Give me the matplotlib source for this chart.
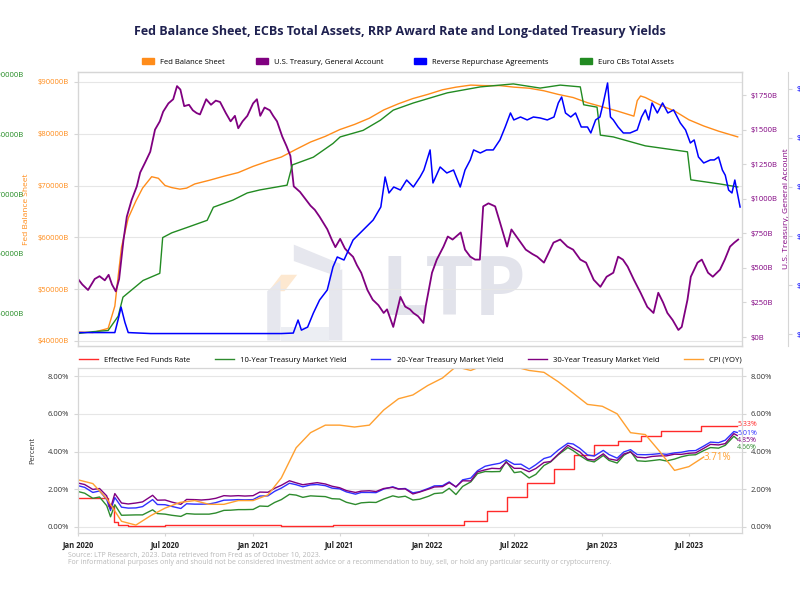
import matplotlib
matplotlib.use("Agg")
import matplotlib.pyplot as plt
import matplotlib.dates as mdates
from matplotlib.patches import Patch, Polygon
from matplotlib.lines import Line2D
from matplotlib.ticker import FuncFormatter, FixedLocator
import pandas as pd

plt.rcParams['font.family'] = ['Open Sans', 'DejaVu Sans']

# ---- top panel data (axis units as labelled on the chart) ----
fed_dates = ['2020-01-01', '2020-02-01', '2020-03-04', '2020-03-18', '2020-03-25', '2020-04-01',
             '2020-04-15', '2020-05-01', '2020-05-15', '2020-06-03', '2020-06-17', '2020-07-01',
             '2020-07-15', '2020-08-01', '2020-08-15', '2020-09-01', '2020-10-01', '2020-11-01',
             '2020-12-01', '2021-01-01', '2021-02-01', '2021-03-01', '2021-04-01', '2021-05-01',
             '2021-06-01', '2021-07-01', '2021-08-01', '2021-09-01', '2021-10-01', '2021-11-01',
             '2021-12-01', '2022-01-01', '2022-02-01', '2022-03-01', '2022-04-01', '2022-05-01',
             '2022-06-01', '2022-07-01', '2022-08-01', '2022-09-01', '2022-10-01', '2022-11-01',
             '2022-12-01', '2023-01-01', '2023-02-01', '2023-03-08', '2023-03-15', '2023-03-22',
             '2023-04-01', '2023-05-01', '2023-06-01', '2023-07-01', '2023-08-01', '2023-09-01',
             '2023-10-11']
fed_bs = [41700, 41600, 42400, 46700, 52500, 58100, 63700, 67000, 69500, 71700, 71400, 70000,
          69600, 69300, 69500, 70300, 71000, 71800, 72500, 73700, 74700, 75500, 77000, 78400,
          79500, 80800, 81800, 83000, 84600, 85800, 86800, 87600, 88500, 89000, 89400, 89300,
          89300, 89000, 88800, 88300, 87600, 87000, 86000, 85200, 84400, 83400, 86400, 87300,
          87000, 85600, 84400, 82700, 81500, 80500, 79400]

ecb_dates = ['2020-01-01', '2020-02-01', '2020-03-04', '2020-03-25', '2020-04-04', '2020-05-01',
             '2020-05-16', '2020-06-20', '2020-06-26', '2020-07-15', '2020-08-16', '2020-09-27',
             '2020-10-10', '2020-11-20', '2020-12-20', '2021-01-15', '2021-03-13', '2021-03-24',
             '2021-05-07', '2021-06-17', '2021-07-02', '2021-08-19', '2021-09-24', '2021-10-21',
             '2021-12-02', '2022-02-11', '2022-04-21', '2022-06-29', '2022-08-24', '2022-10-05',
             '2022-11-16', '2022-11-23', '2022-12-21', '2022-12-28', '2023-01-24', '2023-04-01',
             '2023-06-28', '2023-07-05', '2023-09-04', '2023-10-11']
ecb_assets = [46600, 46900, 47100, 49500, 52700, 54500, 55500, 56700, 62700, 63500, 64400, 65600,
              67800, 69000, 70200, 70700, 71500, 74900, 76200, 78500, 79600, 80700, 82400, 84100,
              85300, 87000, 88000, 88500, 87800, 88300, 88000, 85000, 84600, 79900, 79600, 78100,
              77100, 72400, 71700, 71200]

tga_dates = ['2020-01-01', '2020-01-10', '2020-01-22', '2020-02-05', '2020-02-15', '2020-02-26',
             '2020-03-05', '2020-03-12', '2020-03-20', '2020-03-27', '2020-04-05', '2020-04-12',
             '2020-04-22', '2020-05-03', '2020-05-10', '2020-05-20', '2020-05-31', '2020-06-10',
             '2020-06-20', '2020-06-27', '2020-07-08', '2020-07-18', '2020-07-26', '2020-08-02',
             '2020-08-10', '2020-08-20', '2020-08-28', '2020-09-05', '2020-09-12', '2020-09-25',
             '2020-10-05', '2020-10-15', '2020-10-24', '2020-11-05', '2020-11-15', '2020-11-24',
             '2020-12-01', '2020-12-10', '2020-12-20', '2021-01-01', '2021-01-09', '2021-01-16',
             '2021-01-25', '2021-02-05', '2021-02-12', '2021-02-20', '2021-03-03', '2021-03-12',
             '2021-03-20', '2021-03-27', '2021-04-09', '2021-04-20', '2021-05-01', '2021-05-10',
             '2021-05-20', '2021-06-05', '2021-06-15', '2021-06-22', '2021-07-02', '2021-07-12',
             '2021-07-20', '2021-07-29', '2021-08-06', '2021-08-15', '2021-08-28', '2021-09-08',
             '2021-09-20', '2021-10-01', '2021-10-08', '2021-10-21', '2021-11-05', '2021-11-15',
             '2021-11-25', '2021-12-02', '2021-12-12', '2021-12-23', '2021-12-28', '2022-01-10',
             '2022-01-20', '2022-02-03', '2022-02-12', '2022-02-22', '2022-03-11', '2022-03-20',
             '2022-03-31', '2022-04-10', '2022-04-20', '2022-04-27', '2022-05-08', '2022-05-22',
             '2022-06-01', '2022-06-16', '2022-06-25', '2022-07-10', '2022-07-25', '2022-08-08',
             '2022-08-18', '2022-09-01', '2022-09-21', '2022-10-05', '2022-10-20', '2022-11-01',
             '2022-11-16', '2022-11-28', '2022-12-14', '2022-12-28', '2023-01-10', '2023-01-24',
             '2023-02-03', '2023-02-13', '2023-02-23', '2023-03-08', '2023-03-22', '2023-04-05',
             '2023-04-18', '2023-04-28', '2023-05-08', '2023-05-17', '2023-05-28', '2023-06-09',
             '2023-06-16', '2023-06-28', '2023-07-05', '2023-07-19', '2023-07-28', '2023-08-10',
             '2023-08-20', '2023-09-04', '2023-09-14', '2023-09-25', '2023-10-04', '2023-10-12']
tga = [420, 380, 340, 420, 440, 410, 450, 380, 330, 420, 700, 870,
       990, 1090, 1190, 1260, 1340, 1500, 1560, 1630, 1690, 1720, 1815, 1790,
       1670, 1680, 1640, 1620, 1610, 1720, 1680, 1710, 1700, 1620, 1560, 1600,
       1510, 1560, 1600, 1690, 1720, 1600, 1660, 1640, 1600, 1560, 1450, 1380,
       1310, 1090, 1050, 1000, 950, 920, 870, 780, 700, 650, 710, 640,
       610, 580, 520, 465, 340, 270, 230, 174, 200, 73, 290, 220,
       200, 174, 150, 102, 225, 465, 560, 654, 727, 705, 756, 632,
       581, 560, 560, 945, 967, 945, 830, 654, 778, 705, 632, 600,
       581, 538, 683, 705, 654, 632, 560, 538, 414, 363, 436, 465,
       581, 560, 509, 414, 320, 218, 174, 320, 250, 174, 123, 51,
       73, 269, 436, 538, 560, 465, 436, 487, 560, 654, 683, 705]

rrp_dates = ['2020-01-01', '2020-02-01', '2020-03-01', '2020-03-18', '2020-03-25', '2020-03-31',
             '2020-04-08', '2020-04-15', '2020-06-01', '2020-09-01', '2020-12-01', '2021-03-01',
             '2021-03-26', '2021-04-05', '2021-04-12', '2021-04-25', '2021-05-07', '2021-05-20',
             '2021-06-05', '2021-06-17', '2021-06-26', '2021-07-10', '2021-07-29', '2021-08-19',
             '2021-09-09', '2021-09-25', '2021-10-04', '2021-10-12', '2021-10-22', '2021-11-05',
             '2021-11-18', '2021-12-02', '2021-12-16', '2021-12-24', '2022-01-06', '2022-01-12',
             '2022-01-27', '2022-02-10', '2022-02-24', '2022-03-10', '2022-03-20', '2022-03-31',
             '2022-04-07', '2022-04-21', '2022-05-04', '2022-05-18', '2022-06-01', '2022-06-12',
             '2022-06-23', '2022-06-30', '2022-07-14', '2022-07-28', '2022-08-10', '2022-08-24',
             '2022-09-08', '2022-09-22', '2022-10-01', '2022-10-08', '2022-10-16', '2022-10-27',
             '2022-11-06', '2022-11-18', '2022-12-01', '2022-12-08', '2022-12-18', '2022-12-27',
             '2023-01-03', '2023-01-12', '2023-01-18', '2023-01-24', '2023-02-03', '2023-02-14',
             '2023-02-28', '2023-03-15', '2023-03-24', '2023-04-01', '2023-04-08', '2023-04-15',
             '2023-04-26', '2023-05-07', '2023-05-18', '2023-05-30', '2023-06-13', '2023-06-24',
             '2023-07-04', '2023-07-12', '2023-07-21', '2023-08-01', '2023-08-15', '2023-08-23',
             '2023-09-01', '2023-09-09', '2023-09-15', '2023-09-22', '2023-09-29', '2023-10-05',
             '2023-10-16']
rrp = [15, 15, 15, 15, 150, 275, 120, 15, 5, 5, 5, 5,
       10, 143, 40, 71, 214, 347, 449, 684, 786, 755, 959, 1061,
       1163, 1296, 1602, 1439, 1500, 1469, 1571, 1500, 1602, 1673, 1878, 1541,
       1704, 1643, 1673, 1500, 1673, 1776, 1878, 1847, 1878, 1878, 1980, 2112,
       2255, 2184, 2214, 2184, 2214, 2204, 2184, 2214, 2357, 2418, 2255, 2214,
       2255, 2112, 2112, 2051, 2184, 2214, 2357, 2561, 2214, 2184, 2112, 2051,
       2051, 2082, 2214, 2286, 2184, 2357, 2255, 2357, 2255, 2286, 2153, 2082,
       1949, 1980, 1806, 1745, 1776, 1776, 1806, 1673, 1620, 1469, 1439, 1571,
       1296]

# ---- bottom panel data (percent) ----
ffr_dates = ['2020-01-01', '2020-03-04', '2020-03-16', '2020-03-25', '2020-04-15', '2020-07-01',
             '2021-03-01', '2021-06-17', '2022-03-17', '2022-05-05', '2022-06-16', '2022-07-28',
             '2022-09-22', '2022-11-03', '2022-12-15', '2023-02-02', '2023-03-23', '2023-05-04',
             '2023-07-27', '2023-10-10']
ffr = [1.55, 1.09, 0.25, 0.10, 0.05, 0.09, 0.07, 0.08, 0.33, 0.83, 1.58, 2.33,
       3.08, 3.83, 4.33, 4.58, 4.83, 5.08, 5.33, 5.33]

yield_dates = ['2020-01-01', '2020-01-15', '2020-02-01', '2020-02-15', '2020-03-01', '2020-03-09',
               '2020-03-18', '2020-04-01', '2020-04-15', '2020-05-01', '2020-05-15', '2020-06-05',
               '2020-06-15', '2020-07-01', '2020-07-15', '2020-08-03', '2020-08-15', '2020-09-01',
               '2020-09-15', '2020-10-01', '2020-10-15', '2020-11-01', '2020-11-15', '2020-12-01',
               '2020-12-15', '2021-01-01', '2021-01-15', '2021-02-01', '2021-02-15', '2021-03-01',
               '2021-03-18', '2021-04-01', '2021-04-15', '2021-05-01', '2021-05-15', '2021-06-01',
               '2021-06-15', '2021-07-01', '2021-07-15', '2021-08-03', '2021-08-15', '2021-09-01',
               '2021-09-15', '2021-10-01', '2021-10-20', '2021-11-01', '2021-11-15', '2021-12-01',
               '2021-12-15', '2022-01-03', '2022-01-15', '2022-02-01', '2022-02-15', '2022-03-01',
               '2022-03-15', '2022-04-01', '2022-04-15', '2022-05-01', '2022-05-15', '2022-06-01',
               '2022-06-14', '2022-07-01', '2022-07-15', '2022-08-01', '2022-08-15', '2022-09-01',
               '2022-09-15', '2022-10-01', '2022-10-21', '2022-11-01', '2022-11-15', '2022-12-01',
               '2022-12-15', '2023-01-03', '2023-01-15', '2023-02-01', '2023-02-15', '2023-03-01',
               '2023-03-15', '2023-04-01', '2023-04-15', '2023-05-01', '2023-05-15', '2023-06-01',
               '2023-06-15', '2023-07-01', '2023-07-15', '2023-08-01', '2023-08-15', '2023-09-01',
               '2023-09-15', '2023-10-03', '2023-10-10']
y10 = [1.88, 1.79, 1.52, 1.59, 1.13, 0.54, 1.18, 0.62, 0.63, 0.64, 0.64, 0.91,
       0.71, 0.68, 0.62, 0.56, 0.71, 0.68, 0.68, 0.68, 0.74, 0.88, 0.89, 0.92,
       0.92, 0.93, 1.11, 1.09, 1.30, 1.45, 1.73, 1.69, 1.57, 1.65, 1.63, 1.61,
       1.50, 1.48, 1.31, 1.19, 1.28, 1.31, 1.30, 1.48, 1.65, 1.58, 1.63, 1.43,
       1.47, 1.63, 1.77, 1.81, 2.05, 1.72, 2.15, 2.39, 2.83, 2.94, 2.93, 2.94,
       3.48, 2.88, 2.93, 2.60, 2.79, 3.26, 3.45, 3.83, 4.21, 4.05, 3.79, 3.53,
       3.45, 3.79, 3.53, 3.39, 3.80, 4.01, 3.51, 3.48, 3.52, 3.57, 3.50, 3.60,
       3.72, 3.81, 3.83, 4.05, 4.21, 4.18, 4.33, 4.81, 4.66]
y20 = [2.19, 2.10, 1.83, 1.91, 1.46, 0.87, 1.56, 1.05, 1.00, 1.01, 1.08, 1.45,
       1.19, 1.18, 1.09, 0.98, 1.23, 1.21, 1.21, 1.22, 1.29, 1.42, 1.43, 1.45,
       1.44, 1.45, 1.64, 1.65, 1.89, 2.06, 2.32, 2.24, 2.13, 2.23, 2.25, 2.19,
       2.06, 2.02, 1.86, 1.74, 1.83, 1.83, 1.82, 2.01, 2.13, 2.02, 2.04, 1.81,
       1.87, 2.05, 2.18, 2.19, 2.39, 2.12, 2.50, 2.59, 2.98, 3.22, 3.30, 3.38,
       3.56, 3.32, 3.33, 3.07, 3.30, 3.63, 3.73, 4.08, 4.44, 4.40, 4.17, 3.82,
       3.76, 4.06, 3.84, 3.65, 3.98, 4.10, 3.84, 3.83, 3.85, 3.89, 3.85, 3.93,
       3.96, 4.04, 4.05, 4.29, 4.50, 4.47, 4.60, 5.06, 5.01]
y30 = [2.33, 2.25, 1.99, 2.04, 1.65, 0.99, 1.77, 1.27, 1.22, 1.27, 1.33, 1.68,
       1.42, 1.43, 1.32, 1.20, 1.46, 1.45, 1.43, 1.46, 1.52, 1.66, 1.64, 1.66,
       1.64, 1.66, 1.85, 1.84, 2.05, 2.21, 2.45, 2.34, 2.24, 2.30, 2.35, 2.28,
       2.16, 2.08, 1.93, 1.83, 1.90, 1.92, 1.88, 2.04, 2.10, 2.01, 2.02, 1.75,
       1.85, 2.01, 2.12, 2.14, 2.35, 2.13, 2.45, 2.44, 2.92, 3.03, 3.11, 3.09,
       3.43, 3.11, 3.11, 2.93, 3.10, 3.42, 3.47, 3.86, 4.33, 4.17, 3.98, 3.59,
       3.55, 3.88, 3.61, 3.53, 3.87, 3.97, 3.70, 3.67, 3.74, 3.77, 3.77, 3.86,
       3.85, 3.91, 3.93, 4.17, 4.38, 4.35, 4.42, 4.95, 4.85]

cpi_start = '2020-01-01'
cpi = [2.5, 2.3, 1.5, 0.3, 0.1, 0.6, 1.0, 1.3, 1.4, 1.2, 1.2, 1.4,
       1.4, 1.7, 2.6, 4.2, 5.0, 5.4, 5.4, 5.3, 5.4, 6.2, 6.8, 7.0,
       7.5, 7.9, 8.5, 8.3, 8.6, 9.1, 8.5, 8.3, 8.2, 7.7, 7.1, 6.5,
       6.4, 6.0, 5.0, 4.9, 4.0, 3.0, 3.2, 3.71]

title = 'Fed Balance Sheet, ECBs Total Assets, RRP Award Rate and Long-dated Treasury Yields'
source_lines = ['Source: LTP Research, 2023. Data retrieved from Fred as of October 10, 2023.',
                'For informational purposes only and should not be considered investment advice '
                'or a recommendation to buy, sell, or hold any particular security or cryptocurrency.']

ORANGE = '#ff8c1a'
PURPLE = '#800080'
BLUE = '#0000ff'
GREEN = '#228b22'
GRID = '#e6e6e6'
SPINE = '#d6d6d6'

fig = plt.figure(figsize=(8, 6), dpi=100)
fig.text(0.5, 1 - 32 / 600, title, ha='center', va='center', fontsize=9,
         fontweight='bold', color='#1f2150')

# ---------------- top panel ----------------
ax = fig.add_axes([78 / 800, 1 - 346 / 600, 664 / 800, 274 / 600])
ax_tga = ax.twinx()
ax_ecb = ax.twinx()
ax_rrp = ax.twinx()

ax.plot(pd.to_datetime(fed_dates), fed_bs, color=ORANGE, lw=1.0, zorder=3)
ax_tga.plot(pd.to_datetime(tga_dates), tga, color=PURPLE, lw=1.3)
ax_ecb.plot(pd.to_datetime(ecb_dates), ecb_assets, color=GREEN, lw=1.0)
ax_rrp.plot(pd.to_datetime(rrp_dates), rrp, color=BLUE, lw=1.1)

ax.set_ylim(39000, 91930)
ax_tga.set_ylim(-65, 1917)
ax_ecb.set_ylim(44500, 90500)
ax_rrp.set_ylim(-122, 2673)

ax.yaxis.set_major_locator(FixedLocator(range(40000, 90001, 10000)))
ax_tga.yaxis.set_major_locator(FixedLocator(range(0, 1751, 250)))
ax_ecb.yaxis.set_major_locator(FixedLocator(range(50000, 90001, 10000)))
ax_rrp.yaxis.set_major_locator(FixedLocator(range(0, 2501, 500)))

money = FuncFormatter(lambda v, p: f'${int(v)}B')
for a in (ax, ax_tga, ax_ecb, ax_rrp):
    a.yaxis.set_major_formatter(money)
    for s in a.spines.values():
        s.set_color(SPINE)

# extra axes sit partly outside the visible area, as in the cropped original
ax_ecb.spines['left'].set_position(('axes', -0.075))
ax_ecb.spines['left'].set_visible(True)
ax_ecb.spines['left'].set_color('none')
ax_ecb.yaxis.set_ticks_position('left')
ax_rrp.spines['right'].set_position(('axes', 1.069))

ax.tick_params(axis='y', colors=SPINE, labelcolor=ORANGE, labelsize=5.5, length=3)
ax_tga.tick_params(axis='y', colors=SPINE, labelcolor=PURPLE, labelsize=5.5, length=3)
ax_ecb.tick_params(axis='y', colors=SPINE, labelcolor=GREEN, labelsize=5.5, length=0)
ax_rrp.tick_params(axis='y', colors=SPINE, labelcolor=BLUE, labelsize=5.5, length=3)
ax.tick_params(axis='x', labelbottom=False, length=0)

ax.set_ylabel('Fed Balance Sheet', color=ORANGE, fontsize=6, labelpad=6)
ax_tga.set_ylabel('U.S. Treasury, General Account', color=PURPLE, fontsize=6, labelpad=4)
ax.grid(axis='y', color=GRID, lw=0.8)
ax.set_axisbelow(True)

# watermark
ax.text(0.565, 0.19, 'LTP', transform=ax.transAxes, ha='center', va='center',
        fontsize=60, fontweight='bold', color='#e2e3eb', zorder=0)
logo = [
    ([(0.287, 0.20), (0.306, 0.26), (0.330, 0.26), (0.311, 0.20)], '#fde8d0'),
    ([(0.285, 0.02), (0.305, 0.02), (0.305, 0.24), (0.285, 0.20)], '#e6e7ee'),
    ([(0.325, 0.37), (0.395, 0.30), (0.395, 0.25), (0.325, 0.31)], '#e6e7ee'),
    ([(0.378, 0.02), (0.398, 0.02), (0.398, 0.28), (0.378, 0.26)], '#e6e7ee'),
    ([(0.305, 0.02), (0.378, 0.02), (0.378, 0.07), (0.305, 0.07)], '#eceef3'),
]
for pts, c in logo:
    ax.add_patch(Polygon(pts, closed=True, transform=ax.transAxes, color=c, zorder=0, lw=0))

fig.legend(handles=[Patch(color=ORANGE, label='Fed Balance Sheet'),
                    Patch(color=PURPLE, label='U.S. Treasury, General Account'),
                    Patch(color=BLUE, label='Reverse Repurchase Agreements'),
                    Patch(color=GREEN, label='Euro CBs Total Assets')],
           loc='center', bbox_to_anchor=(0.51, 1 - 62 / 600), ncol=4, frameon=False,
           fontsize=5.5, handlelength=1.6, handleheight=0.8, columnspacing=4.0)

# ---------------- bottom panel ----------------
bx = fig.add_axes([78 / 800, 1 - 533 / 600, 664 / 800, 165 / 600], sharex=ax)
bx2 = bx.twinx()

lines = [
    (ffr_dates, ffr, '#ff2a2a', 'Effective Fed Funds Rate'),
    (yield_dates, y10, '#2e8b2e', '10-Year Treasury Market Yield'),
    (yield_dates, y20, '#3030ff', '20-Year Treasury Market Yield'),
    (yield_dates, y30, PURPLE, '30-Year Treasury Market Yield'),
]
for d, v, c, lab in lines:
    ds = 'steps-post' if lab.startswith('Effective') else 'default'
    bx.plot(pd.to_datetime(d), v, color=c, lw=1.0, drawstyle=ds, label=lab)
cpi_dates = pd.date_range(cpi_start, periods=len(cpi), freq='MS')
bx.plot(cpi_dates, cpi, color='#ffa030', lw=1.0, label='CPI (YOY)')

# end-of-series value labels, stacked so they do not collide
end_labels = [(ffr_dates[-1], ffr[-1], '#ff2a2a', 0.12),
              (yield_dates[-1], y20[-1], '#3030ff', -0.05),
              (yield_dates[-1], y30[-1], PURPLE, -0.26),
              (yield_dates[-1], y10[-1], '#2e8b2e', -0.42)]
for d, v, c, off in end_labels:
    bx.text(pd.to_datetime(d), v + off, f'{v:.2f}%', color=c, fontsize=5,
            ha='left', va='center')
bx.text(cpi_dates[-1], cpi[-1], f'{cpi[-1]:.2f}%', color='#ffa030', fontsize=7,
        ha='left', va='center')

for a in (bx, bx2):
    a.set_ylim(-0.32, 8.43)
    a.yaxis.set_major_locator(FixedLocator([0, 2, 4, 6, 8]))
    a.yaxis.set_major_formatter(FuncFormatter(lambda v, p: f'{v:.2f}%'))
    a.tick_params(axis='y', colors=SPINE, labelcolor='#333333', labelsize=5.5, length=3)
    for s in a.spines.values():
        s.set_color(SPINE)
bx.grid(axis='y', color=GRID, lw=0.8)
bx.set_axisbelow(True)
bx.set_ylabel('Percent', fontsize=5.5, color='#333333', labelpad=8)

bx.set_xlim(pd.Timestamp('2020-01-01'), pd.Timestamp('2023-10-20'))
bx.xaxis.set_major_locator(mdates.MonthLocator(bymonth=[1, 7]))
bx.xaxis.set_major_formatter(mdates.DateFormatter('%b %Y'))
bx.tick_params(axis='x', colors=SPINE, labelcolor='#222222', labelsize=5.5, length=2)
for lab in bx.get_xticklabels():
    lab.set_fontweight('bold')

fig.legend(handles=[Line2D([], [], color=c, lw=1.0, label=lab) for _, _, c, lab in lines]
           + [Line2D([], [], color='#ffa030', lw=1.0, label='CPI (YOY)')],
           loc='center', bbox_to_anchor=(0.513, 1 - 360 / 600), ncol=5, frameon=False,
           fontsize=5.5, handlelength=2.5, columnspacing=3.2)

fig.text(68 / 800, 1 - 555 / 600, source_lines[0], fontsize=5, color='#b8b8b8', va='center')
fig.text(68 / 800, 1 - 563 / 600, source_lines[1], fontsize=5, color='#b8b8b8', va='center')

fig.savefig('out.png', dpi=100)
